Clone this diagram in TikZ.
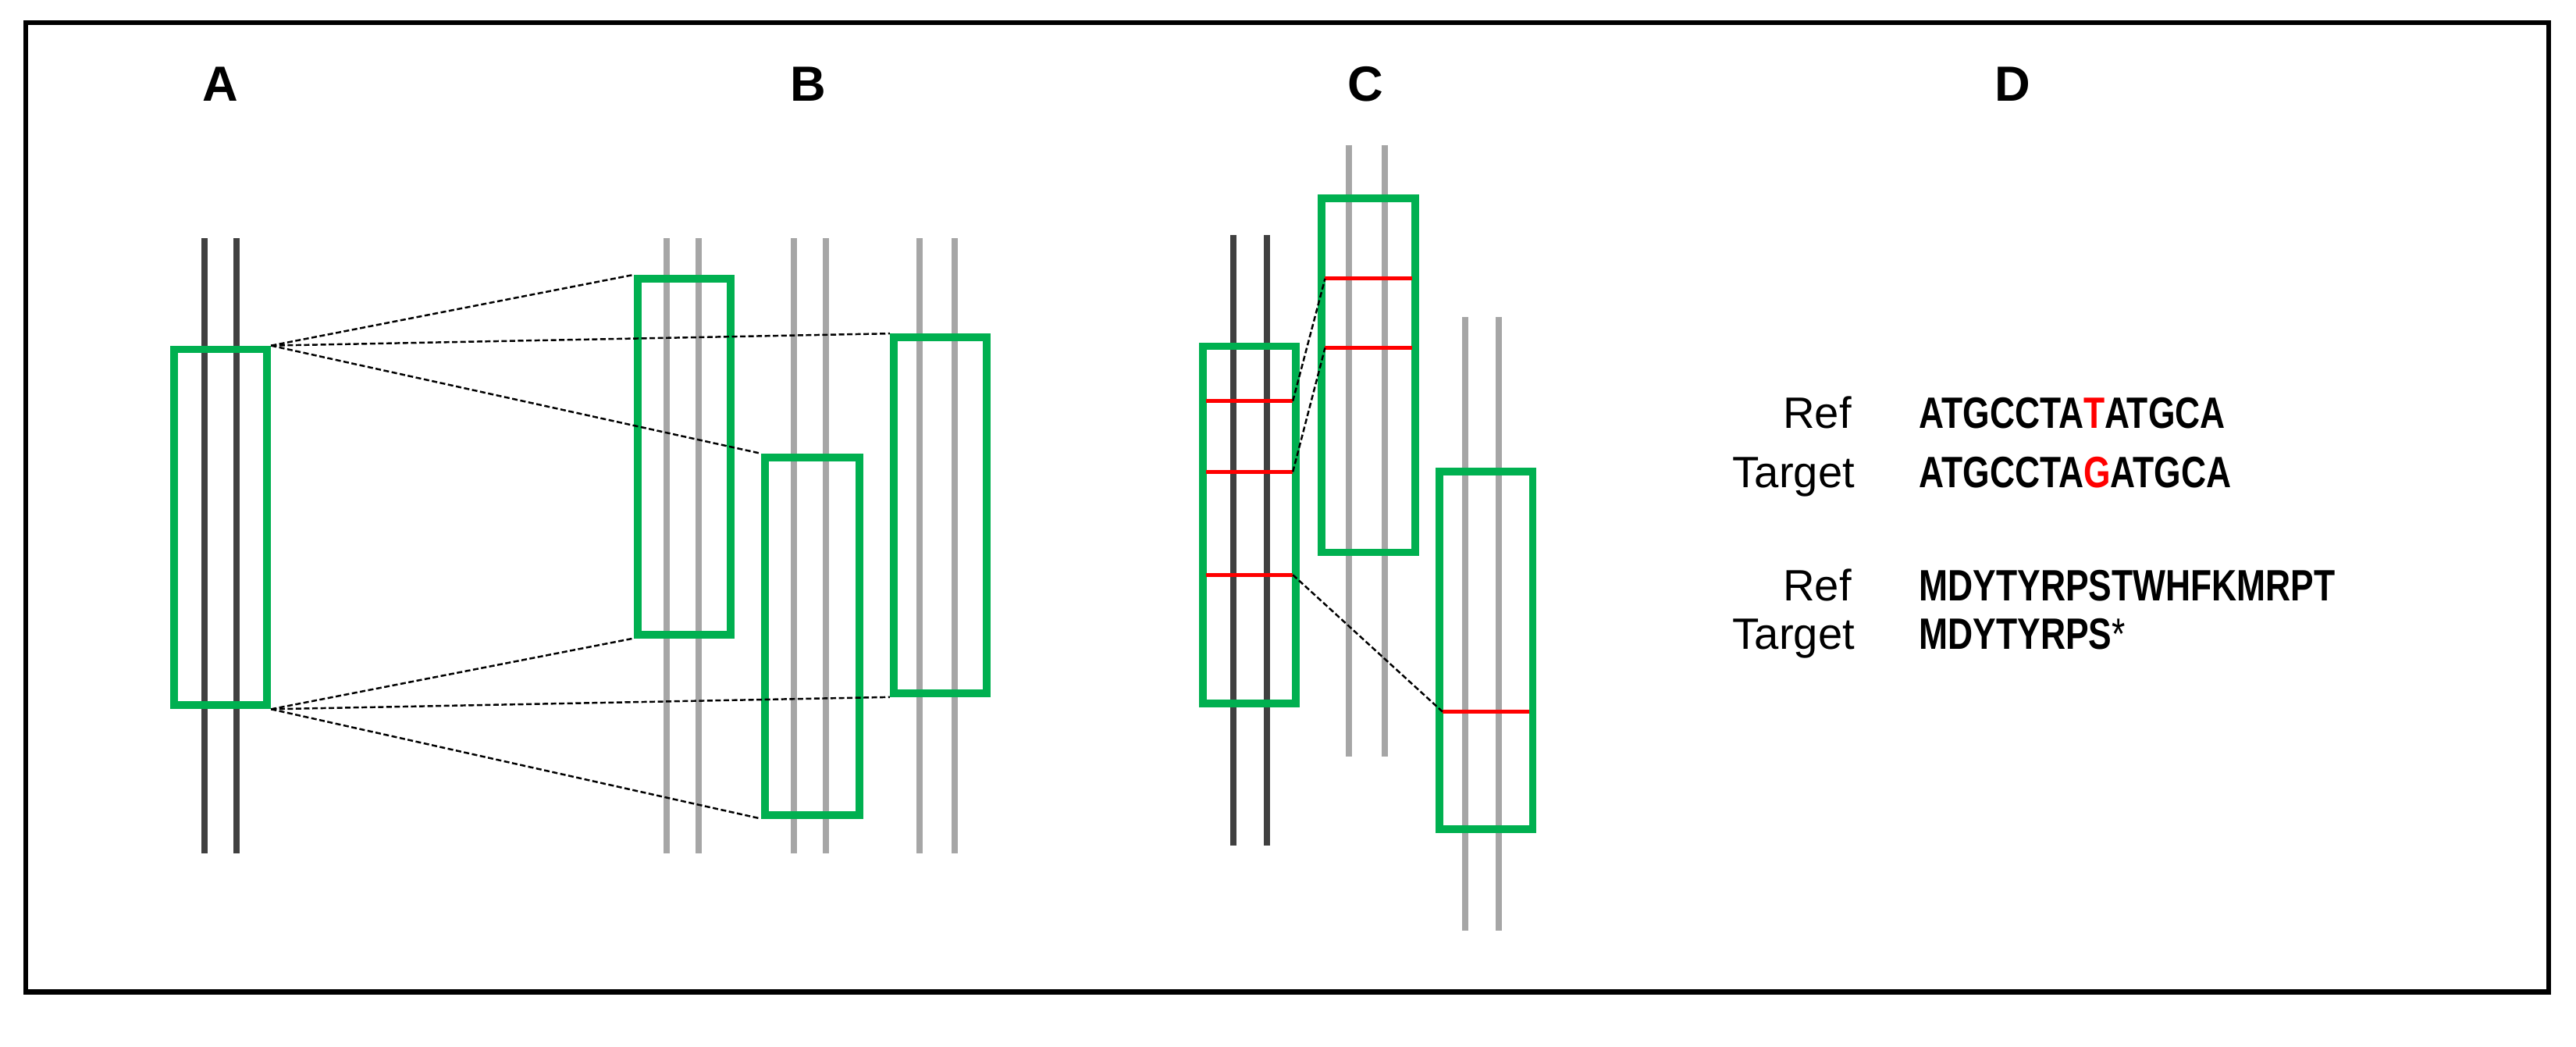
\documentclass[tikz,border=0pt]{standalone}
\usepackage{fontspec}
\setmainfont{Liberation Sans}
\usepackage{graphicx}
\definecolor{gbox}{RGB}{0,176,80}
\definecolor{dk}{RGB}{64,64,64}
\definecolor{lt}{RGB}{166,166,166}
\begin{document}
\begin{tikzpicture}[x=0.020625cm,y=-0.020625cm,
  frame/.style={line width=1.8pt},
  dline/.style={dk,line width=2.3pt},
  lline/.style={lt,line width=2.3pt},
  box/.style={draw=gbox,line width=2.8pt,inner sep=0pt},
  redl/.style={red,line width=1.5pt},
  dsh/.style={line width=0.7pt,dash pattern=on 2pt off 1pt},
  lab/.style={font=\fontsize{18}{20}\selectfont\bfseries},
  rt/.style={font=\fontsize{16}{18}\selectfont,anchor=base east},
  sq/.style={font=\fontsize{16}{18}\selectfont\bfseries,anchor=base west}]
\useasboundingbox (0,0) rectangle (1600,650);
\draw[frame] (16,14) rectangle (1583,616);
\node[lab] (la) at (137,52) {A};
\node[lab] (lb) at (502,52) {B};
\node[lab] (lc) at (848,52) {C};
\node[lab] (ld) at (1250,52) {D};
% A
\draw[dline] (127,148) -- (127,530); \draw[dline] (147,148) -- (147,530);
\node[box,minimum width=58*0.020625cm,minimum height=221*0.020625cm] (ba) at (137,327.5) {};
% B
\foreach \x in {414,434,493,513,571,593} \draw[lline] (\x,148) -- (\x,530);
\node[box,minimum width=58*0.020625cm,minimum height=221*0.020625cm] (b1) at (425,283.5) {};
\node[box,minimum width=59*0.020625cm,minimum height=222*0.020625cm] (b2) at (504.5,395) {};
\node[box,minimum width=58*0.020625cm,minimum height=221*0.020625cm] (b3) at (584,320) {};
\draw[dsh] (ba.north east) -- (b1.north west);
\draw[dsh] (ba.north east) -- (b3.north west);
\draw[dsh] (ba.north east) -- (b2.north west);
\draw[dsh] (ba.south east) -- (b1.south west);
\draw[dsh] (ba.south east) -- (b3.south west);
\draw[dsh] (ba.south east) -- (b2.south west);
% C
\draw[dline] (766,146) -- (766,525); \draw[dline] (787,146) -- (787,525);
\draw[lline] (838,90) -- (838,470); \draw[lline] (860,90) -- (860,470);
\draw[lline] (910,197) -- (910,578); \draw[lline] (931,197) -- (931,578);
\node[box,minimum width=58*0.020625cm,minimum height=222*0.020625cm] (c1) at (776,326) {};
\node[box,minimum width=58*0.020625cm,minimum height=220*0.020625cm] (c2) at (850,233) {};
\node[box,minimum width=58*0.020625cm,minimum height=222*0.020625cm] (c3) at (923,404) {};
\coordinate (r1a) at (749,249); \coordinate (r1b) at (803,249);
\coordinate (r2a) at (749,293); \coordinate (r2b) at (803,293);
\coordinate (r3a) at (749,357); \coordinate (r3b) at (803,357);
\coordinate (r4a) at (823,173); \coordinate (r4b) at (877,173);
\coordinate (r5a) at (823,216); \coordinate (r5b) at (877,216);
\coordinate (r6a) at (896,442); \coordinate (r6b) at (950,442);
\draw[redl] (r1a) -- (r1b); \draw[redl] (r2a) -- (r2b); \draw[redl] (r3a) -- (r3b);
\draw[redl] (r4a) -- (r4b); \draw[redl] (r5a) -- (r5b); \draw[redl] (r6a) -- (r6b);
\draw[dsh] (r1b) -- (r4a);
\draw[dsh] (r2b) -- (r5a);
\draw[dsh] (r3b) -- (r6a);
% D
\node[rt] (t1) at (1156,266) {Ref};
\node[rt] (t2) at (1158,303) {Target};
\node[rt] (t3) at (1156,373) {Ref};
\node[rt] (t4) at (1158,403) {Target};
\node[sq] (s1) at (1186,266) {\scalebox{0.79}[1]{ATGCCTA\textcolor{red}{T}ATGCA}};
\node[sq] (s2) at (1186,303) {\scalebox{0.79}[1]{ATGCCTA\textcolor{red}{G}ATGCA}};
\node[sq] (s3) at (1186,373) {\scalebox{0.79}[1]{MDYTYRPSTWHFKMRPT}};
\node[sq] (s4) at (1186,403) {\scalebox{0.79}[1]{MDYTYRPS\textmd{*}}};
\end{tikzpicture}
\end{document}
